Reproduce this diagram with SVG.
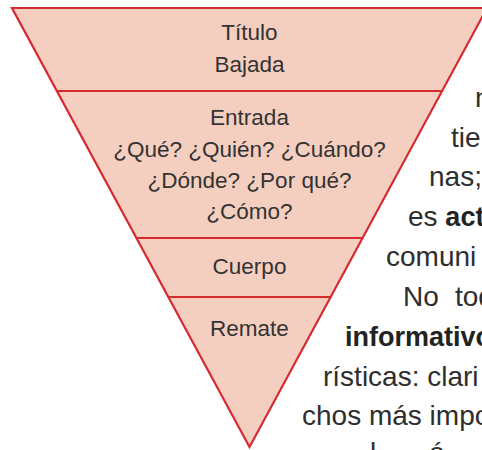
<svg xmlns="http://www.w3.org/2000/svg" width="482" height="450" viewBox="0 0 482 450">
<style>
.band{fill:#f4cebf;stroke:none}
.edge{fill:none;stroke:#d62930;stroke-width:2.2;stroke-linejoin:miter}
.lbl{font-family:"Liberation Sans",Arial,sans-serif;font-size:22.5px;fill:#333;text-anchor:middle}
.body{font-family:"Liberation Sans",Arial,sans-serif;font-size:28px;fill:#2e2e2e}
.b{font-weight:bold;font-size:27px;fill:#222}
</style>
<rect width="482" height="450" fill="#fff"/>
<g id="page-text" class="body">
<text x="475" y="107">n</text>
<text x="451" y="147">tie</text>
<text x="429" y="186">nas;</text>
<text x="408" y="226">es <tspan class="b">act</tspan></text>
<text x="386" y="266">comuni</text>
<text y="306"><tspan x="403">No</tspan><tspan x="455">tod</tspan></text>
<text x="345" y="346" class="b">informativo</text>
<text x="323" y="386">rísticas: clari</text>
<text x="302" y="425">chos más impo</text>
<text y="462"><tspan x="370">l</tspan><tspan x="429">ó</tspan></text>
</g>
<g id="titulo">
<polygon class="band" points="12,8 487,8 442,91 57,91"/>
<text class="lbl" x="249.5" y="40">Título</text>
<text class="lbl" x="249.5" y="72">Bajada</text>
</g>
<g id="entrada">
<polygon class="band" points="57,91 442,91 362.3,238 136.7,238"/>
<text class="lbl" x="249.5" y="125">Entrada</text>
<text class="lbl" x="249.5" y="157">¿Qué? ¿Quién? ¿Cuándo?</text>
<text class="lbl" x="249.5" y="188">¿Dónde? ¿Por qué?</text>
<text class="lbl" x="249.5" y="219">¿Cómo?</text>
</g>
<g id="cuerpo">
<polygon class="band" points="136.7,238 362.3,238 330.4,297 168.6,297"/>
<text class="lbl" x="249.5" y="274">Cuerpo</text>
</g>
<g id="remate">
<polygon class="band" points="168.6,297 330.4,297 249.5,447"/>
<text class="lbl" x="249.5" y="336">Remate</text>
</g>
<g id="connectors">
<polygon class="edge" points="12,8 487,8 249.5,447"/>
<line class="edge" x1="57" y1="91" x2="442" y2="91"/>
<line class="edge" x1="136.7" y1="238" x2="362.3" y2="238"/>
<line class="edge" x1="168.6" y1="297" x2="330.4" y2="297"/>
</g>
</svg>
